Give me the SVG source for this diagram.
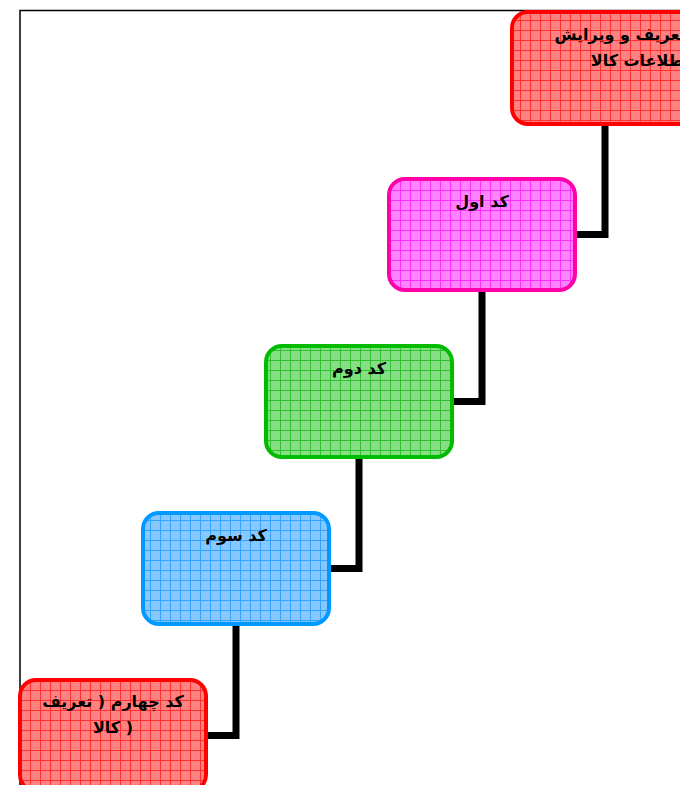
<svg xmlns="http://www.w3.org/2000/svg" width="680" height="785" viewBox="0 0 680 785">
<defs>
<pattern id="pRed" patternUnits="userSpaceOnUse" width="10" height="10">
<rect width="10" height="10" fill="#ff8282"/>
<path d="M0 0.5H10M0.5 0V10" stroke="#ff3030" stroke-width="1"/>
</pattern>
<pattern id="pMag" patternUnits="userSpaceOnUse" width="10" height="10">
<rect width="10" height="10" fill="#ff84ff"/>
<path d="M0 0.5H10M0.5 0V10" stroke="#ff30ff" stroke-width="1"/>
</pattern>
<pattern id="pGreen" patternUnits="userSpaceOnUse" width="10" height="10">
<rect width="10" height="10" fill="#86de86"/>
<path d="M0 0.5H10M0.5 0V10" stroke="#30c030" stroke-width="1"/>
</pattern>
<pattern id="pBlue" patternUnits="userSpaceOnUse" width="10" height="10">
<rect width="10" height="10" fill="#86c8ff"/>
<path d="M0 0.5H10M0.5 0V10" stroke="#30a4ff" stroke-width="1"/>
</pattern>
</defs>
<style>
.box{stroke-width:4}
.lbl{font-family:"DejaVu Sans","Liberation Sans",sans-serif;font-weight:bold;font-size:16px;fill:#000;text-anchor:middle}
.conn{fill:none;stroke:#000;stroke-width:7;stroke-linejoin:miter}
</style>
<rect width="680" height="785" fill="#fff"/>
<path d="M20 785V10.5H680" fill="none" stroke="#000" stroke-width="1.5"/>
<g id="connectors">
<path class="conn" d="M605 124V234.5H575"/>
<path class="conn" d="M482 290V401.5H452"/>
<path class="conn" d="M359 457V568.5H329"/>
<path class="conn" d="M236 624V735.5H206"/>
</g>
<g id="node1">
<rect class="box" x="512" y="12" width="190" height="112" rx="16" fill="url(#pRed)" stroke="#ff0000"/>
<text class="lbl" x="620" y="40">تعریف و ویرایش</text>
<text class="lbl" x="640" y="66">اطلاعات کالا</text>
</g>
<g id="node2">
<rect class="box" x="389" y="179" width="186" height="111" rx="16" fill="url(#pMag)" stroke="#ff00aa"/>
<text class="lbl" x="482" y="207">کد اول</text>
</g>
<g id="node3">
<rect class="box" x="266" y="346" width="186" height="111" rx="16" fill="url(#pGreen)" stroke="#00bb00"/>
<text class="lbl" x="359" y="374">کد دوم</text>
</g>
<g id="node4">
<rect class="box" x="143" y="513" width="186" height="111" rx="16" fill="url(#pBlue)" stroke="#0099ff"/>
<text class="lbl" x="236" y="541">کد سوم</text>
</g>
<g id="node5">
<rect class="box" x="20" y="680" width="186" height="111" rx="16" fill="url(#pRed)" stroke="#ff0000"/>
<text class="lbl" x="113" y="707">کد چهارم ( تعریف</text>
<text class="lbl" x="113" y="733">کالا )</text>
</g>
</svg>
